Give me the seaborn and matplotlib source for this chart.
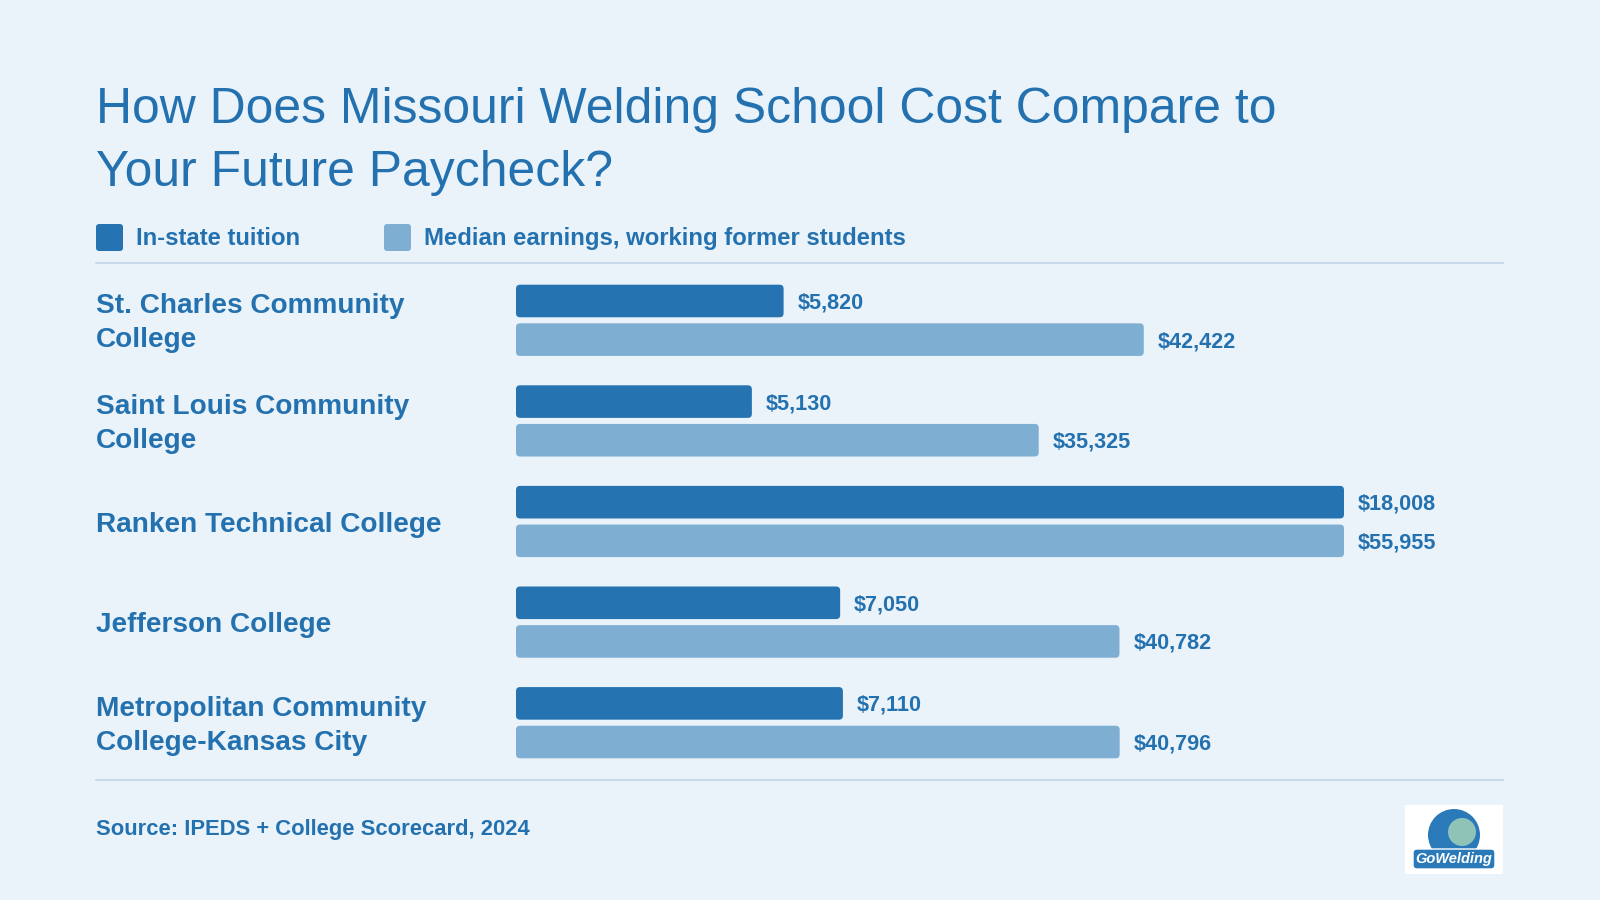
import numpy as np
import pandas as pd
import matplotlib
matplotlib.use("Agg")
import matplotlib.pyplot as plt
from matplotlib.patches import FancyBboxPatch, Rectangle, Circle
from matplotlib.transforms import IdentityTransform, blended_transform_factory, offset_copy
import seaborn as sns

# ---------------- data ----------------
schools = [
    "St. Charles Community\nCollege",
    "Saint Louis Community\nCollege",
    "Ranken Technical College",
    "Jefferson College",
    "Metropolitan Community\nCollege-Kansas City",
]
tuition = [5820, 5130, 18008, 7050, 7110]
earnings = [42422, 35325, 55955, 40782, 40796]
series_names = ["In-state tuition", "Median earnings, working former students"]
title_lines = ["How Does Missouri Welding School Cost Compare to", "Your Future Paycheck?"]
source_text = "Source: IPEDS + College Scorecard, 2024"

# ---------------- style ----------------
BG = "#EBF3FA"
DARK = "#2574B1"
LIGHT = "#7FAED3"
TXT = "#2471AF"
SEP = "#C8DAEA"

sns.set_theme(style="white")
plt.rcParams["font.family"] = ["Liberation Sans", "DejaVu Sans"]

W, H = 1600, 900
fig = plt.figure(figsize=(16, 9), dpi=100, facecolor=BG)

def fx(x):
    return x / W

def fy(y):
    return 1 - y / H

# title
fig.text(fx(96), fy(123), title_lines[0], fontsize=35.9, color=TXT, va="baseline", ha="left")
fig.text(fx(96), fy(186), title_lines[1], fontsize=35.9, color=TXT, va="baseline", ha="left")

# legend
for sx, tx, col, name in [(96, 136, DARK, series_names[0]), (384, 424, LIGHT, series_names[1])]:
    fig.add_artist(FancyBboxPatch((sx, H - 251), 27, 27, boxstyle="round,pad=0,rounding_size=3",
                                  transform=IdentityTransform(), facecolor=col, edgecolor="none"))
    fig.text(fx(tx), fy(245), name, fontsize=17.2, fontweight="bold", color=TXT, va="baseline", ha="left")

# separators
for yy in (263, 780):
    fig.add_artist(plt.Line2D([fx(96), fx(1503)], [fy(yy), fy(yy)], color=SEP, lw=1.5))

# ---------------- bars ----------------
n = len(schools)
pos = np.arange(n)
off = 0.192
bh = 0.324

ax1 = fig.add_axes([fx(516), fy(773), fx(1344) - fx(516), (773 - 270) / H])
ax1.set_facecolor("none")
ax2 = ax1.twiny()

sns.barplot(x=tuition, y=pos - off, orient="y", native_scale=True, width=bh,
            color=DARK, saturation=1, ax=ax1)
sns.barplot(x=earnings, y=pos + off, orient="y", native_scale=True, width=bh,
            color=LIGHT, saturation=1, ax=ax2)

ax1.set_xlim(0, max(tuition))
ax2.set_xlim(0, max(earnings))
ax1.set_ylim(n - 0.5, -0.5)
ax2.set_ylim(n - 0.5, -0.5)
for ax in (ax1, ax2):
    ax.axis("off")

for i in range(n):
    ax1.annotate(f"${tuition[i]:,}", (tuition[i], pos[i] - off), xytext=(14, -2),
                 textcoords="offset pixels", va="center", ha="left",
                 fontsize=15.6, fontweight="bold", color=TXT, annotation_clip=False)
    ax2.annotate(f"${earnings[i]:,}", (earnings[i], pos[i] + off), xytext=(14, -2),
                 textcoords="offset pixels", va="center", ha="left",
                 fontsize=15.6, fontweight="bold", color=TXT, annotation_clip=False)

# category labels
trans = blended_transform_factory(fig.transFigure, ax1.transData)
trans = offset_copy(trans, fig=fig, x=0, y=-3, units="dots")
for i, s in enumerate(schools):
    ax1.text(fx(96), pos[i], s, transform=trans, fontsize=20.2, fontweight="bold",
             color=TXT, va="center", ha="left", linespacing=1.39)

# rounded corners for bars
fig.canvas.draw()
renderer = fig.canvas.get_renderer()
for ax in (ax1, ax2):
    for p in list(ax.patches):
        if isinstance(p, Rectangle):
            bb = p.get_window_extent(renderer)
            p.set_visible(False)
            fig.add_artist(FancyBboxPatch((bb.x0, bb.y0), bb.width, bb.height,
                                          boxstyle="round,pad=0,rounding_size=4",
                                          transform=IdentityTransform(),
                                          facecolor=p.get_facecolor(), edgecolor="none"))

# source
fig.text(fx(96), fy(835), source_text, fontsize=15.8, fontweight="bold", color=TXT,
         va="baseline", ha="left")

# logo (simple)
fig.add_artist(Rectangle((1405, H - 874), 98, 69, transform=IdentityTransform(),
                         facecolor="white", edgecolor="none"))
fig.add_artist(Circle((1454, H - 835), 26, transform=IdentityTransform(),
                      facecolor="#2A79B9", edgecolor="none"))
fig.add_artist(Circle((1462, H - 832), 14, transform=IdentityTransform(),
                      facecolor="#8FC3B8", edgecolor="none"))
fig.add_artist(FancyBboxPatch((1413, H - 869), 82, 20, boxstyle="round,pad=0,rounding_size=4",
                              transform=IdentityTransform(), facecolor="#2A79B9",
                              edgecolor="white", lw=1))
fig.text(fx(1454), fy(859), "GoWelding", fontsize=10.5, fontweight="bold", style="italic",
         color="white", ha="center", va="center")

fig.savefig("out.png", dpi=100, facecolor=BG)
